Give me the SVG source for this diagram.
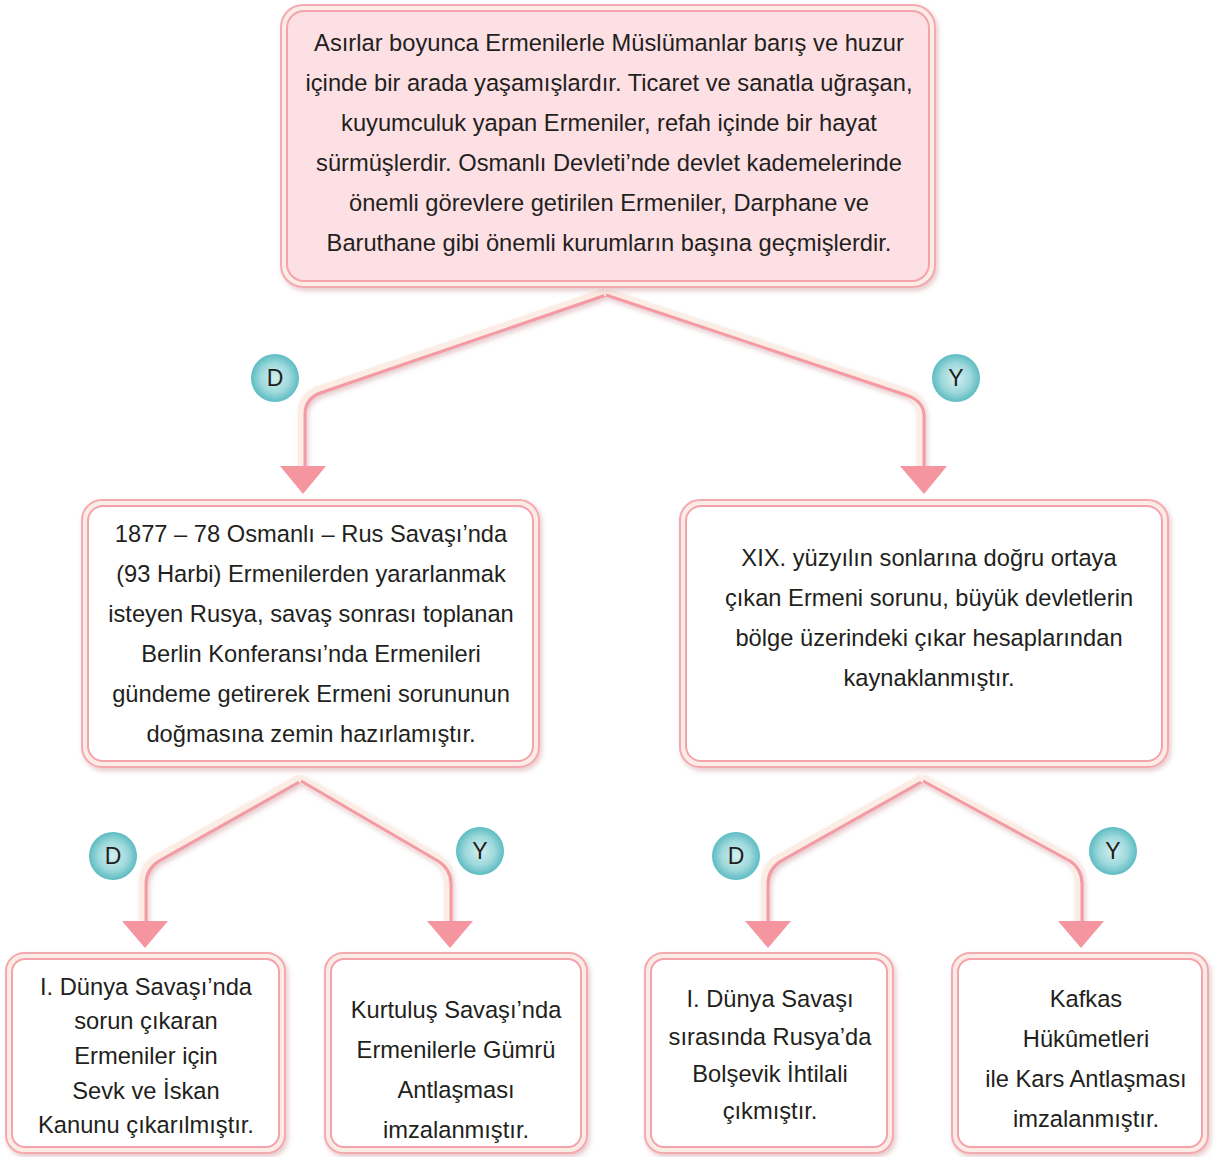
<svg xmlns="http://www.w3.org/2000/svg" width="1219" height="1157" viewBox="0 0 1219 1157">
<defs>
<radialGradient id="tg" cx="0.5" cy="0.5" r="0.5">
<stop offset="0" stop-color="#d2eff0"/>
<stop offset="0.6" stop-color="#9fd9dc"/>
<stop offset="1" stop-color="#5cbcc2"/>
</radialGradient>
<filter id="sh" x="-10%" y="-10%" width="120%" height="120%">
<feDropShadow dx="2" dy="3" stdDeviation="2.5" flood-color="#c98a90" flood-opacity="0.45"/>
</filter>
</defs>
<style>
.box{stroke:#f5a9b0;stroke-width:2;fill:#fbede6}
.in{stroke:#f5a3ab;stroke-width:2;fill:#ffffff}
.inp{stroke:#f5a3ab;stroke-width:2;fill:#fde0e4}
.t{font-family:"Liberation Sans",Arial,sans-serif;font-size:23.7px;fill:#231f20;text-anchor:middle}
.lc{fill:none;stroke:#fbece4;stroke-width:8;stroke-linejoin:round}
.lp{fill:none;stroke:#f49aa4;stroke-width:3;stroke-linejoin:round}
.ah{fill:#f4959f}
.c{fill:url(#tg)}
.ct{font-family:"Liberation Sans",Arial,sans-serif;font-size:23px;fill:#231f20;text-anchor:middle}
</style>
<g id="connectors">
<g filter="url(#sh)">
<path class="lc" d="M605 292 L318 390 Q302 396 302 412 L302 468"/>
<path class="lp" d="M606 295 L320 393 Q305 399 305 414 L305 468"/>
<path class="lc" d="M605 292 L905 392 Q921 398 921 414 L921 468"/>
<path class="lp" d="M606 295 L906 395 Q924 401 924 416 L924 468"/>
<path class="lc" d="M300 778 L157 858 Q143 866 143 882 L143 924"/>
<path class="lp" d="M301 781 L159 861 Q146 869 146 884 L146 924"/>
<path class="lc" d="M300 778 L437 858 Q448 866 448 882 L448 924"/>
<path class="lp" d="M301 781 L438 861 Q451 869 451 884 L451 924"/>
<path class="lc" d="M922 778 L779 858 Q765 866 765 882 L765 924"/>
<path class="lp" d="M923 781 L781 861 Q768 869 768 884 L768 924"/>
<path class="lc" d="M922 778 L1069 858 Q1079 866 1079 882 L1079 924"/>
<path class="lp" d="M923 781 L1070 861 Q1082 869 1082 884 L1082 924"/>
</g>
<polygon class="ah" points="280,466 326,466 303,494"/>
<polygon class="ah" points="900,466 947,466 924,494"/>
<polygon class="ah" points="122,921 168,921 145,948"/>
<polygon class="ah" points="427,921 473,921 450,948"/>
<polygon class="ah" points="745,921 791,921 768,948"/>
<polygon class="ah" points="1058,921 1104,921 1081,948"/>
<circle class="c" cx="275" cy="378" r="24"/><text class="ct" x="275" y="386">D</text>
<circle class="c" cx="956" cy="378" r="24"/><text class="ct" x="956" y="386">Y</text>
<circle class="c" cx="113" cy="856" r="24"/><text class="ct" x="113" y="864">D</text>
<circle class="c" cx="480" cy="851" r="24"/><text class="ct" x="480" y="859">Y</text>
<circle class="c" cx="736" cy="856" r="24"/><text class="ct" x="736" y="864">D</text>
<circle class="c" cx="1113" cy="851" r="24"/><text class="ct" x="1113" y="859">Y</text>
</g>
<g id="top">
<rect class="box" x="281" y="5" width="654" height="282" rx="22" filter="url(#sh)"/>
<rect class="inp" x="287" y="11" width="642" height="270" rx="17"/>
<text class="t" x="609" y="51">Asırlar boyunca Ermenilerle Müslümanlar barış ve huzur</text>
<text class="t" x="609" y="91">içinde bir arada yaşamışlardır. Ticaret ve sanatla uğraşan,</text>
<text class="t" x="609" y="131">kuyumculuk yapan Ermeniler, refah içinde bir hayat</text>
<text class="t" x="609" y="171">sürmüşlerdir. Osmanlı Devleti’nde devlet kademelerinde</text>
<text class="t" x="609" y="211">önemli görevlere getirilen Ermeniler, Darphane ve</text>
<text class="t" x="609" y="251">Baruthane gibi önemli kurumların başına geçmişlerdir.</text>
</g>
<g id="mid-left">
<rect class="box" x="82" y="500" width="457" height="267" rx="20" filter="url(#sh)"/>
<rect class="in" x="88" y="506" width="445" height="255" rx="15"/>
<text class="t" x="311" y="542">1877 – 78 Osmanlı – Rus Savaşı’nda</text>
<text class="t" x="311" y="582">(93 Harbi) Ermenilerden yararlanmak</text>
<text class="t" x="311" y="622">isteyen Rusya, savaş sonrası toplanan</text>
<text class="t" x="311" y="662">Berlin Konferansı’nda Ermenileri</text>
<text class="t" x="311" y="702">gündeme getirerek Ermeni sorununun</text>
<text class="t" x="311" y="742">doğmasına zemin hazırlamıştır.</text>
</g>
<g id="mid-right">
<rect class="box" x="680" y="500" width="488" height="267" rx="20" filter="url(#sh)"/>
<rect class="in" x="686" y="506" width="476" height="255" rx="15"/>
<text class="t" x="929" y="566">XIX. yüzyılın sonlarına doğru ortaya</text>
<text class="t" x="929" y="606">çıkan Ermeni sorunu, büyük devletlerin</text>
<text class="t" x="929" y="646">bölge üzerindeki çıkar hesaplarından</text>
<text class="t" x="929" y="686">kaynaklanmıştır.</text>
</g>
<g id="bottom-1">
<rect class="box" x="6" y="953" width="279" height="200" rx="18" filter="url(#sh)"/>
<rect class="in" x="12" y="959" width="267" height="188" rx="13"/>
<text class="t" x="146" y="995">I. Dünya Savaşı’nda</text>
<text class="t" x="146" y="1029">sorun çıkaran</text>
<text class="t" x="146" y="1064">Ermeniler için</text>
<text class="t" x="146" y="1099">Sevk ve İskan</text>
<text class="t" x="146" y="1133">Kanunu çıkarılmıştır.</text>
</g>
<g id="bottom-2">
<rect class="box" x="325" y="953" width="262" height="200" rx="18" filter="url(#sh)"/>
<rect class="in" x="331" y="959" width="250" height="188" rx="13"/>
<text class="t" x="456" y="1018">Kurtuluş Savaşı’nda</text>
<text class="t" x="456" y="1058">Ermenilerle Gümrü</text>
<text class="t" x="456" y="1098">Antlaşması</text>
<text class="t" x="456" y="1138">imzalanmıştır.</text>
</g>
<g id="bottom-3">
<rect class="box" x="645" y="953" width="248" height="200" rx="18" filter="url(#sh)"/>
<rect class="in" x="651" y="959" width="236" height="188" rx="13"/>
<text class="t" x="770" y="1007">I. Dünya Savaşı</text>
<text class="t" x="770" y="1045">sırasında Rusya’da</text>
<text class="t" x="770" y="1082">Bolşevik İhtilali</text>
<text class="t" x="770" y="1119">çıkmıştır.</text>
</g>
<g id="bottom-4">
<rect class="box" x="952" y="953" width="256" height="200" rx="18" filter="url(#sh)"/>
<rect class="in" x="958" y="959" width="244" height="188" rx="13"/>
<text class="t" x="1086" y="1007">Kafkas</text>
<text class="t" x="1086" y="1047">Hükûmetleri</text>
<text class="t" x="1086" y="1087">ile Kars Antlaşması</text>
<text class="t" x="1086" y="1127">imzalanmıştır.</text>
</g>
</svg>
